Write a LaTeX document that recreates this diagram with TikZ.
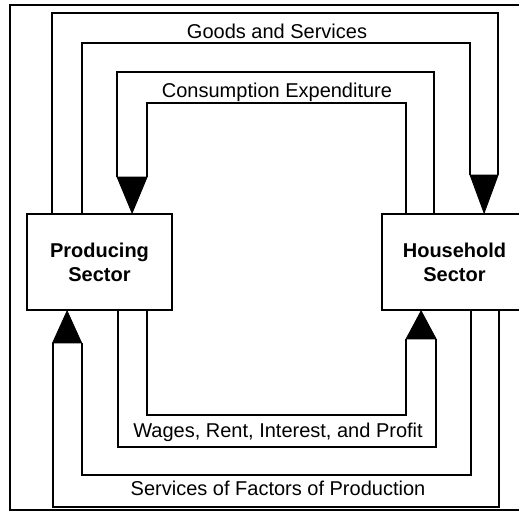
\documentclass[tikz,border=0pt]{standalone}
\usepackage{fontspec}
\setmainfont{Liberation Sans}
\usetikzlibrary{calc}
\begin{document}
\begin{tikzpicture}[x=1pt,y=-1pt,
  band/.style={line width=1.8pt, line join=miter},
  head/.style={fill=black, draw=black, line width=0.8pt, line join=miter},
  sector/.style={draw, line width=1.8pt, minimum width=145pt, minimum height=96pt,
    align=center, inner sep=0pt, font=\fontsize{20}{24}\selectfont\bfseries},
  lbl/.style={font=\fontsize{20}{24}\selectfont, anchor=base}]
\useasboundingbox (0,0) rectangle (519,512);
\clip (0,0) rectangle (519,512);
% outer frame
\draw[band] (10,5) rectangle (530,510);
% sectors
\node[sector] (P) at (99.5,262) {Producing\\Sector};
\node[sector] (H) at (454.5,262) {Household\\Sector};
% arrow tips
\coordinate (gt) at ($(H.north west)+(103,0)$);
\coordinate (ct) at ($(P.north west)+(106,0)$);
\coordinate (wt) at ($(H.south west)+(40,0)$);
\coordinate (st) at ($(P.south west)+(41,0)$);
% Goods and Services
\draw[band] ($(P.north west)+(26,0)$) -- ++(0,-200) -| ($(gt)+(14,-38)$);
\draw[band] ($(P.north west)+(56,0)$) -- ++(0,-170) -| ($(gt)+(-14,-38)$);
\filldraw[head] (gt) -- ($(gt)+(-14,-38)$) -- ($(gt)+(14,-38)$) -- cycle;
% Consumption Expenditure
\draw[band] ($(H.north west)+(53,0)$) -- ++(0,-141) -| ($(ct)+(-15,-36)$);
\draw[band] ($(H.north west)+(25,0)$) -- ++(0,-110) -| ($(ct)+(15,-36)$);
\filldraw[head] (ct) -- ($(ct)+(-15,-36)$) -- ($(ct)+(15,-36)$) -- cycle;
% Wages, Rent, Interest, and Profit
\draw[band] ($(P.south west)+(92,0)$) -- ++(0,136) -| ($(wt)+(15,28)$);
\draw[band] ($(P.south west)+(121,0)$) -- ++(0,104) -| ($(wt)+(-15,28)$);
\filldraw[head] (wt) -- ($(wt)+(-15,28)$) -- ($(wt)+(15,28)$) -- cycle;
% Services of Factors of Production
\draw[band] ($(H.south west)+(118,0)$) -- ++(0,196) -| ($(st)+(-14.5,32)$);
\draw[band] ($(H.south west)+(90,0)$) -- ++(0,164) -| ($(st)+(14.5,32)$);
\filldraw[head] (st) -- ($(st)+(-14.5,32)$) -- ($(st)+(14.5,32)$) -- cycle;
% labels
\node[lbl] (gs) at (277,38) {Goods and Services};
\node[lbl] (ce) at (277,97) {Consumption Expenditure};
\node[lbl] (wr) at (278,437) {Wages, Rent, Interest, and Profit};
\node[lbl] (sf) at (278,495) {Services of Factors of Production};
\end{tikzpicture}
\end{document}
